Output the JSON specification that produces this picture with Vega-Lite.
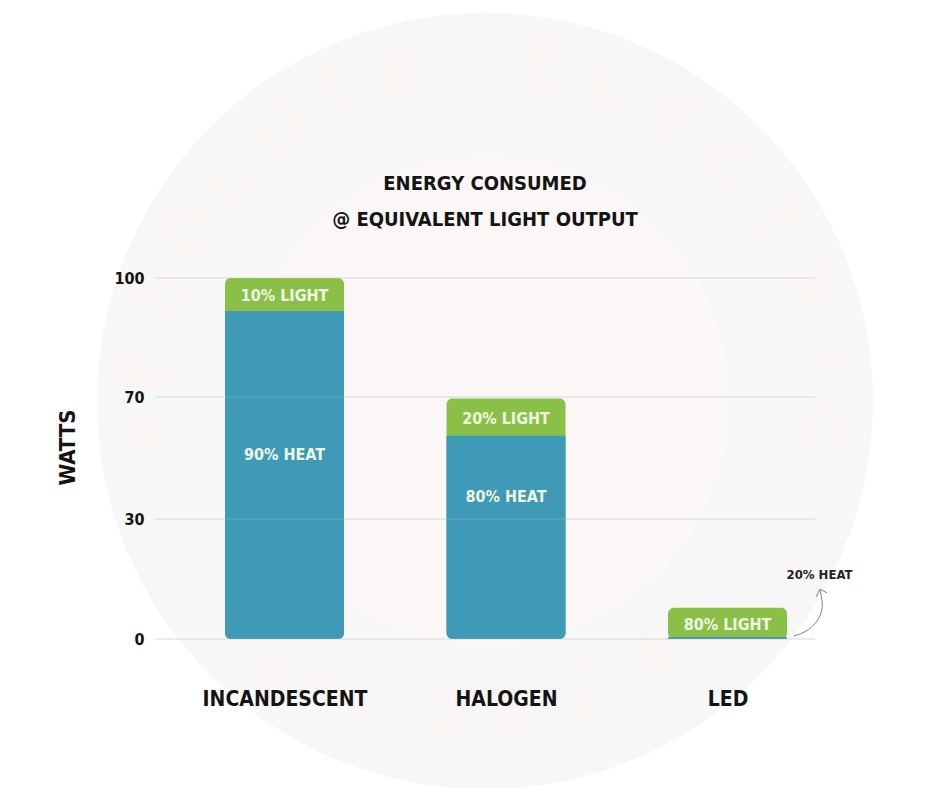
{
"$schema":"https://vega.github.io/schema/vega-lite/v6.json",
"width":660,"height":361,
"autosize":"none",
"padding":{"left":155,"top":278,"right":125,"bottom":149},
"background":"#ffffff",
"config":{"view":{"stroke":null}},
"title":{"text":["ENERGY CONSUMED","@ EQUIVALENT LIGHT OUTPUT"],"anchor":"middle","offset":0,"dy":217,"font":"DejaVu Sans Condensed","fontSize":20,"fontWeight":"bold","color":"#141414","lineHeight":36},
"datasets":{
"lamps":[{"lamp":"INCANDESCENT","heat":91.7,"total":100},{"lamp":"HALOGEN","heat":57.3,"total":69.5},{"lamp":"LED","heat":0.5,"total":7.8}],
"grid":[{"v":0},{"v":30},{"v":70},{"v":100}],
"labels":[{"lamp":"INCANDESCENT","label":"10% LIGHT","at":96},{"lamp":"INCANDESCENT","label":"90% HEAT","at":51.5},{"lamp":"HALOGEN","label":"20% LIGHT","at":63.5},{"lamp":"HALOGEN","label":"80% HEAT","at":37.8},{"lamp":"LED","label":"80% LIGHT","at":4}],
"disc":[{"u":485,"v":401}],
"mark":[{"c":"A","u":146,"v":431,"r":-95},{"c":"B","u":147,"v":365,"r":-84},{"c":"S","u":162,"v":296,"r":-72},{"c":"O","u":190,"v":231,"r":-60},{"c":"L","u":228,"v":178,"r":-49},{"c":"U","u":280,"v":129,"r":-37},{"c":"T","u":336,"v":95,"r":-26},{"c":"E","u":403,"v":71,"r":-14},{"c":"E","u":544,"v":66,"r":10},{"c":"L","u":612,"v":86,"r":22},{"c":"E","u":675,"v":119,"r":34},{"c":"C","u":729,"v":165,"r":46},{"c":"T","u":773,"v":221,"r":58},{"c":"R","u":807,"v":290,"r":71},{"c":"I","u":823,"v":365,"r":84},{"c":"C","u":824,"v":431,"r":95},{"c":"e","u":273,"v":670,"r":30},{"c":"s","u":317,"v":690,"r":22},{"c":"t","u":367,"v":705,"r":14},{"c":".","u":392,"v":725,"r":8},{"c":"2","u":445,"v":718,"r":4},{"c":"0","u":510,"v":712,"r":-6},{"c":"2","u":585,"v":692,"r":-18},{"c":"4","u":655,"v":660,"r":-30}],
"curve":[{"u":794,"v":636,"o":1},{"u":806,"v":632,"o":2},{"u":817,"v":623,"o":3},{"u":824,"v":608,"o":4},{"u":820,"v":590,"o":5}],
"head":[{"u":816,"v":597,"o":1},{"u":820,"v":589,"o":2},{"u":827,"v":593,"o":3}]
},
"resolve":{"scale":{"x":"independent","y":"independent"}},
"layer":[
{"layer":[
{"data":{"name":"disc"},"mark":{"type":"point","filled":true,"size":602176,"shape":"circle","color":"#f7f7f7","opacity":1,"clip":false},
"encoding":{"x":{"field":"u","type":"quantitative","scale":{"domain":[155,815],"nice":false,"zero":false},"axis":null},"y":{"field":"v","type":"quantitative","scale":{"domain":[278,639],"range":[0,361],"nice":false,"zero":false},"axis":null}}},
{"data":{"name":"disc"},"mark":{"type":"point","filled":true,"size":240100,"shape":"circle","color":"#fbf7f6","opacity":1,"clip":false},
"encoding":{"x":{"field":"u","type":"quantitative","axis":null},"y":{"field":"v","type":"quantitative","axis":null}}},
{"data":{"name":"mark"},"mark":{"type":"text","font":"Liberation Sans","fontSize":72,"fontWeight":"bold","color":"#fbf5f3","baseline":"middle","align":"center"},
"encoding":{"x":{"field":"u","type":"quantitative","axis":null},"y":{"field":"v","type":"quantitative","axis":null},"text":{"field":"c"},"angle":{"field":"r","type":"quantitative","scale":null}}}
]},
{"layer":[
{"data":{"name":"grid"},"mark":{"type":"rule","color":"#d4d4d4","strokeWidth":1},"encoding":{"y":{"field":"v","type":"quantitative","scale":{"domain":[0,30,70,100],"range":[361,241,119,0],"nice":false,"zero":false},"axis":{"values":[0,30,70,100],"orient":"left","zindex":1,"title":"WATTS","grid":false,"domain":false,"ticks":false,"labelPadding":11,"labelFont":"DejaVu Sans Condensed","labelFontSize":16,"labelFontWeight":"bold","labelColor":"#141414","titleFont":"DejaVu Sans Condensed","titleFontSize":22,"titleFontWeight":"bold","titleColor":"#141414","titleX":-76,"titleY":169}}}},
{"data":{"name":"lamps"},"mark":{"type":"bar","size":119,"color":"#8bc048","cornerRadius":6},
"encoding":{"x":{"field":"lamp","type":"nominal","sort":null,"scale":{"type":"point","padding":0,"domain":["INCANDESCENT","HALOGEN","LED"],"range":[129.5,572.5]},"axis":{"title":null,"orient":"bottom","zindex":1,"labelAngle":0,"domain":false,"ticks":false,"grid":false,"labelPadding":60,"labelLimit":300,"labelFont":"DejaVu Sans Condensed","labelFontSize":21,"labelFontWeight":"bold","labelColor":"#141414","labelBaseline":"middle"}},"y":{"field":"total","type":"quantitative"},"y2":{"datum":0}}},
{"data":{"name":"lamps"},"mark":{"type":"bar","size":119,"color":"#3f9ab8","cornerRadiusBottomLeft":6,"cornerRadiusBottomRight":6},
"encoding":{"x":{"field":"lamp","type":"nominal"},"y":{"field":"heat","type":"quantitative"},"y2":{"datum":0}}},
{"data":{"name":"grid"},"mark":{"type":"rule","color":"#ffffff","opacity":0.18,"strokeWidth":1},"encoding":{"y":{"field":"v","type":"quantitative"}}},
{"data":{"name":"labels"},"mark":{"type":"text","font":"DejaVu Sans Condensed","fontSize":16,"fontWeight":"bold","color":"#eef6e2","baseline":"middle","dy":2},
"encoding":{"x":{"field":"lamp","type":"nominal"},"y":{"field":"at","type":"quantitative"},"text":{"field":"label"}}},
{"data":{"values":[{"lamp":"LED","label":"20% HEAT","at":16.1}]},"mark":{"type":"text","font":"DejaVu Sans Condensed","fontSize":13,"fontWeight":"bold","color":"#222222","baseline":"middle","dx":92},
"encoding":{"x":{"field":"lamp","type":"nominal"},"y":{"field":"at","type":"quantitative"},"text":{"field":"label"}}}
]},
{"layer":[
{"data":{"name":"curve"},"mark":{"type":"line","color":"#808080","strokeWidth":1,"interpolate":"basis"},
"encoding":{"x":{"field":"u","type":"quantitative","scale":{"domain":[155,815],"nice":false,"zero":false},"axis":null},"y":{"field":"v","type":"quantitative","scale":{"domain":[278,639],"range":[0,361],"nice":false,"zero":false},"axis":null},"order":{"field":"o"}}},
{"data":{"name":"head"},"mark":{"type":"line","color":"#808080","strokeWidth":1},
"encoding":{"x":{"field":"u","type":"quantitative","axis":null},"y":{"field":"v","type":"quantitative","axis":null},"order":{"field":"o"}}}
]}
]
}
